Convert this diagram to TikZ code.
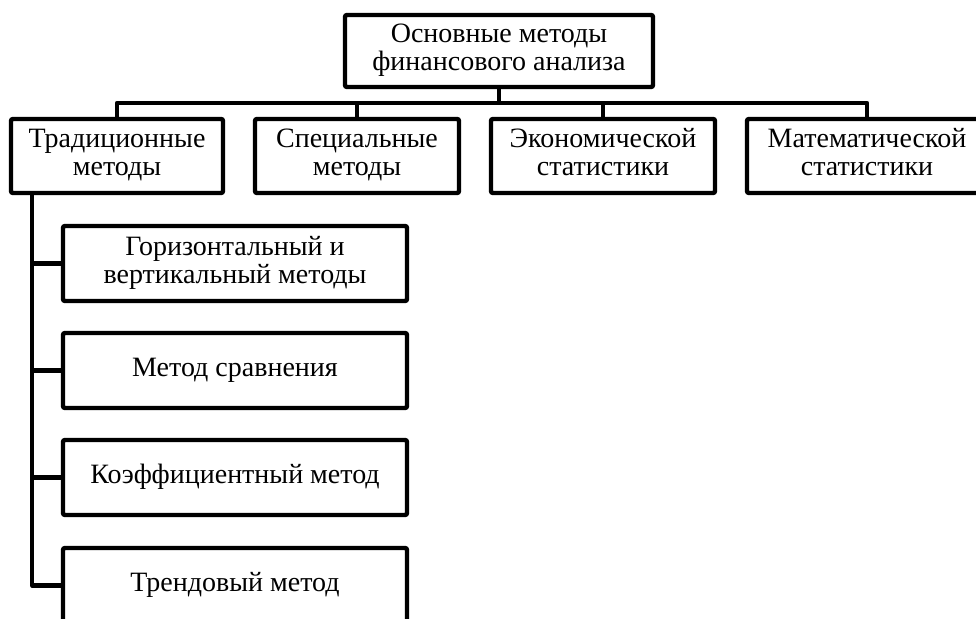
\documentclass[tikz,border=0pt]{standalone}
\usepackage{fontspec}
\setmainfont{Liberation Serif}
\usetikzlibrary{positioning}
\tikzstyle{method} = [rectangle,
                      rounded corners=1pt,
                      minimum height=37pt,
                      inner sep=2pt,
                      outer sep=0pt,
                      align=center,
                      line width=2.2pt,
                      font=\fontsize{14pt}{14pt}\selectfont,
                      draw=black]
\tikzstyle{link} = [line width=2.1pt, line join=round]

\begin{document}
\begin{tikzpicture}[x=0.5pt, y=-0.5pt, node distance=16pt]
\useasboundingbox (0,0) rectangle (976,619);
\node (root) [method, minimum width=154pt, minimum height=36pt] at (499,51) {\strut Основные методы\\\strut финансового анализа};
\node (trad) [method, minimum width=106pt] at (117,156) {\strut Традиционные\\\strut методы};
\node (spec) [method, minimum width=102pt, right= of trad] {\strut Специальные\\\strut методы};
\node (econ) [method, minimum width=112pt, right= of spec] {\strut Экономической\\\strut статистики};
\node (math) [method, minimum width=120pt, right= of econ] {\strut Математической\\\strut статистики};
\node (horiz) [method, minimum width=172pt, minimum height=37.5pt, below=16.5pt of trad.south west, anchor=north west, xshift=26pt] {\strut Горизонтальный и\\\strut вертикальный методы};
\node (comp) [method, minimum width=172pt, minimum height=37.5pt, below= of horiz] {\strut Метод сравнения};
\node (coef) [method, minimum width=172pt, minimum height=37.5pt, below= of comp] {\strut Коэффициентный метод};
\node (trend) [method, minimum width=172pt, minimum height=37.5pt, below=16.5pt of coef] {\strut Трендовый метод};
\foreach \n in {trad,spec,econ,math}
  \draw [link] (root.south) -- ++(0,-8pt) -| (\n.north);
\foreach \n in {horiz,comp,coef,trend}
  \draw [link] ([xshift=10.5pt]trad.south west) |- (\n.west);
\end{tikzpicture}
\end{document}
